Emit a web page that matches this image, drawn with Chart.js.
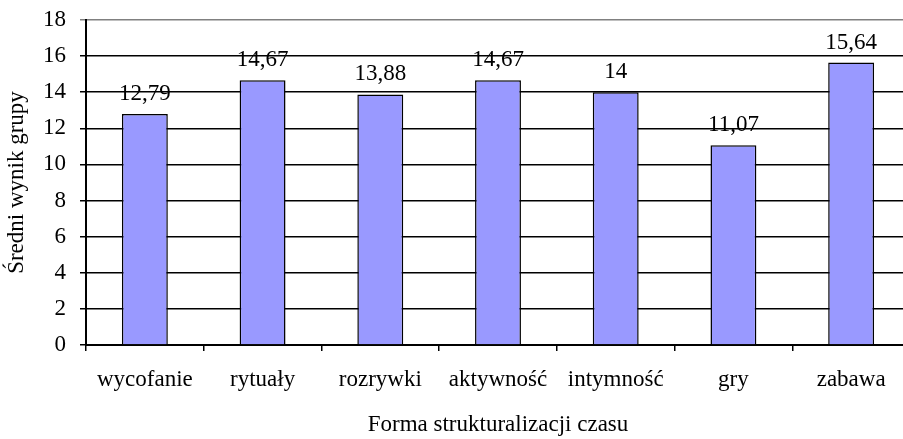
<!DOCTYPE html>
<html>
<head>
<meta charset="utf-8">
<script src="https://cdn.jsdelivr.net/npm/chart.js@4"></script>
<style>
  html, body { margin: 0; padding: 0; background: #fff; overflow: hidden; }
  #wrap { width: 920px; height: 439px; }
</style>
</head>
<body>
<div id="wrap"><canvas id="chart" width="920" height="439"></canvas></div>
<script>
var categories = ['wycofanie', 'rytuały', 'rozrywki', 'aktywność', 'intymność', 'gry', 'zabawa'];
var values = [12.79, 14.67, 13.88, 14.67, 14, 11.07, 15.64];
var yTicks = [0, 2, 4, 6, 8, 10, 12, 14, 16, 18];

var FONT = 'Liberation Serif, Times New Roman, serif';
var SIZE = 23;

function fmt(v) {
    return String(v).replace('.', ',');
}

// draws the value above every bar
var valueLabels = {
    id: 'valueLabels',
    afterDatasetsDraw: function (chart) {
        var ctx = chart.ctx;
        var meta = chart.getDatasetMeta(0);
        ctx.save();
        ctx.font = SIZE + 'px ' + FONT;
        ctx.fillStyle = '#000';
        ctx.textAlign = 'center';
        ctx.textBaseline = 'middle';
        meta.data.forEach(function (bar, i) {
            ctx.fillText(fmt(values[i]), bar.x, bar.y - 20);
        });
        ctx.restore();
    }
};

new Chart(document.getElementById('chart'), {
    type: 'bar',
    data: {
        labels: categories,
        datasets: [{
            data: values,
            backgroundColor: '#9999ff',
            borderColor: '#000',
            borderWidth: 1.5,
            categoryPercentage: 1,
            barPercentage: 0.39
        }]
    },
    options: {
        responsive: false,
        animation: false,
        layout: { padding: { top: 20, right: 10, left: 0, bottom: 0 } },
        plugins: {
            legend: { display: false },
            tooltip: { enabled: false }
        },
        scales: {
            x: {
                afterFit: function (s) {
                    s.height = 94;
                    s.paddingLeft = 0;
                    s.paddingRight = 0;
                },
                grid: {
                    offset: true,
                    drawOnChartArea: false,
                    drawTicks: true,
                    tickLength: 6,
                    color: '#000',
                    lineWidth: 1.5
                },
                border: { color: '#000', width: 2 },
                ticks: {
                    color: '#000',
                    font: { family: FONT, size: SIZE },
                    padding: 15,
                    maxRotation: 0
                },
                title: {
                    display: true,
                    text: 'Forma strukturalizacji czasu',
                    color: '#000',
                    font: { family: FONT, size: SIZE, lineHeight: 1 },
                    padding: { top: 0, bottom: 3 }
                }
            },
            y: {
                min: 0,
                max: 18,
                afterFit: function (s) {
                    s.width = 86;
                    s.paddingTop = 0;
                    s.paddingBottom = 0;
                },
                afterBuildTicks: function (s) {
                    s.ticks = yTicks.map(function (v) { return { value: v }; });
                },
                grid: {
                    color: function (c) { return c.tick && c.tick.value === 18 ? '#808080' : '#000'; },
                    lineWidth: 1.5,
                    tickLength: 6
                },
                border: { color: '#000', width: 2 },
                ticks: {
                    color: '#000',
                    font: { family: FONT, size: SIZE },
                    padding: 14
                },
                title: {
                    display: true,
                    text: 'Średni wynik grupy',
                    color: '#000',
                    font: { family: FONT, size: SIZE, lineHeight: 1 },
                    padding: { top: 5, bottom: 0 }
                }
            }
        }
    },
    plugins: [valueLabels]
});
</script>
</body>
</html>
